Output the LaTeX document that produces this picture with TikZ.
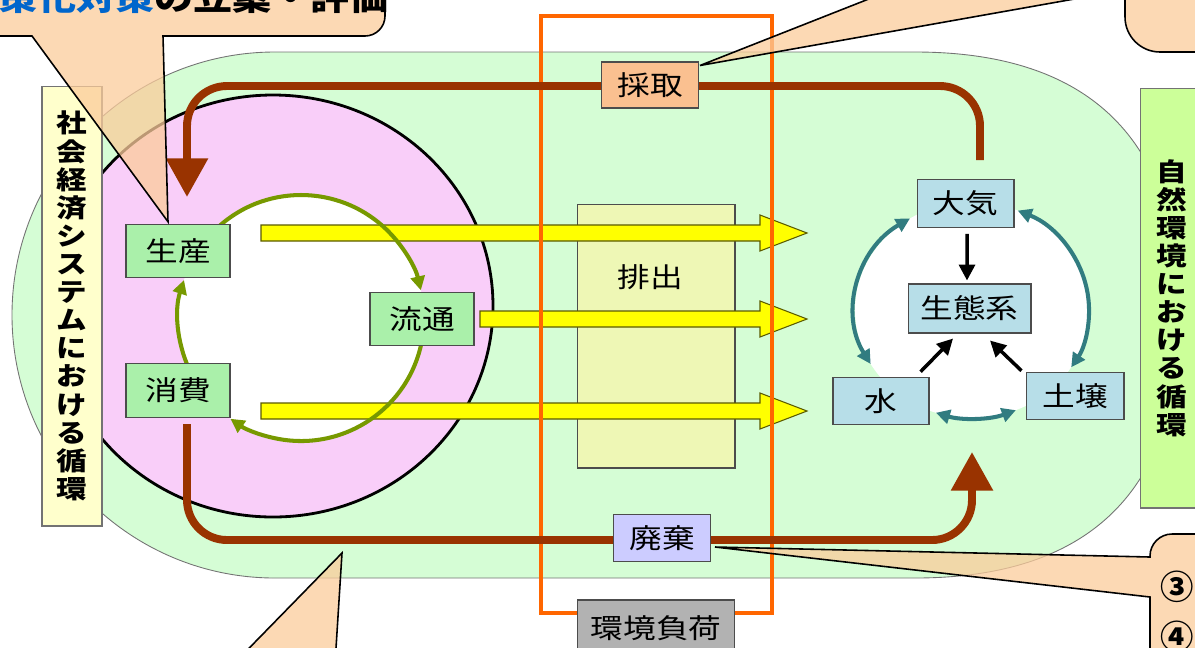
\documentclass[tikz,border=0pt]{standalone}
\usepackage{fontspec}
\setmainfont{Noto Sans CJK JP}[FakeStretch=1.2]
\newfontfamily\circfont{Noto Sans CJK JP}
\usetikzlibrary{positioning,arrows.meta,calc}

\definecolor{ringgreen}{RGB}{213,253,213}
\definecolor{socpink}{RGB}{249,206,249}
\definecolor{socfill}{RGB}{170,240,170}
\definecolor{natfill}{RGB}{183,222,232}
\definecolor{takefill}{RGB}{250,192,144}
\definecolor{wastefill}{RGB}{204,204,255}
\definecolor{loadfill}{RGB}{178,178,178}
\definecolor{emitfill}{RGB}{238,247,181}
\definecolor{leftlabel}{RGB}{255,255,204}
\definecolor{rightlabel}{RGB}{204,255,153}
\definecolor{frameorange}{RGB}{255,102,0}
\definecolor{flowbrown}{RGB}{153,51,0}
\definecolor{cyclegreen}{RGB}{119,153,0}
\definecolor{cycleteal}{RGB}{49,124,128}
\definecolor{emityellow}{RGB}{255,255,0}
\definecolor{emitedge}{RGB}{90,90,0}
\definecolor{calloutfill}{RGB}{251,204,155}
\definecolor{calloutblue}{RGB}{0,102,204}

\tikzset{
  box/.style={draw=black!70, line width=0.6pt, inner sep=0pt, font=\fontsize{15.5}{18}\selectfont},
  soc/.style={box, fill=socfill, minimum width=2.08cm, minimum height=1.07cm},
  nat/.style={box, fill=natfill, minimum width=1.94cm, minimum height=0.95cm},
  vlabel/.style={draw=black!55, line width=0.6pt, align=center, inner sep=0pt,
    font=\bfseries\fontsize{14.5}{16}\selectfont},
  brownflow/.style={draw=flowbrown, line width=4.5pt, rounded corners=0.8cm,
    -{Triangle[length=22pt,width=23pt]}},
  gcycle/.style={draw=cyclegreen, line width=2.3pt, -{Triangle[length=8pt,width=8pt]}},
  tcycle/.style={draw=cycleteal, line width=2.3pt,
    {Triangle[length=8pt,width=8pt]}-{Triangle[length=8pt,width=8pt]}},
  blk/.style={draw=black, line width=2pt, -{Triangle[length=9pt,width=9pt]}},
  emission/.style={fill=emityellow, draw=emitedge, line width=0.6pt},
  callout/.style={fill=calloutfill, fill opacity=0.75, draw=black, line width=0.9pt}
}

% yellow block arrow from #1 to tip #2
\newcommand\emitarrow[2]{%
  \draw[emission] ($(#1)+(0,-8)$) -- ($(#2)+(-47,-8)$) -- ($(#2)+(-47,-18)$) -- (#2)
    -- ($(#2)+(-47,18)$) -- ($(#2)+(-47,8)$) -- ($(#1)+(0,8)$) -- cycle;}

\begin{document}
\begin{tikzpicture}[x=0.02cm, y=-0.02cm]
  \useasboundingbox (0,0) rectangle (1195,647);
  \clip (0,0) rectangle (1195,647);

  % background ring
  \draw[fill=ringgreen, draw=black!55, line width=0.5pt]
    (275,52) -- (915,52) .. controls (1100,52) and (1180,150) .. (1180,315)
    .. controls (1180,480) and (1100,578) .. (915,578) -- (275,578)
    arc[start angle=90, end angle=270, radius=263] -- cycle;

  % socio-economic circle
  \draw[fill=socpink, line width=1.6pt] (273,306) ellipse[x radius=220, y radius=211];
  \fill[white] (301,318) circle[radius=123];
  \fill[white] (972,310) ellipse[x radius=117, y radius=108];

  % emission
  \node[draw=black!70, line width=0.6pt, fill=emitfill, minimum width=3.16cm,
    minimum height=5.28cm] (haishutsu) at (656,336) {};
  \node[font=\fontsize{15.5}{18}\selectfont] (haishutsutext) at ($(haishutsu.north)+(-6,74)$) {排出};

  \coordinate (emit1) at (261,233);
  \coordinate (emit1tip) at (807,233);
  \coordinate (emit2) at (480,319);
  \coordinate (emit2tip) at (807,319);
  \coordinate (emit3) at (261,411);
  \coordinate (emit3tip) at (807,411);
  \emitarrow{emit1}{emit1tip}
  \emitarrow{emit2}{emit2tip}
  \emitarrow{emit3}{emit3tip}

  % environmental load frame
  \draw[frameorange, line width=2.3pt] (541,16) rectangle (772,613);

  % material flow
  \coordinate (takestart) at (980,160);
  \coordinate (takeend) at (187,197);
  \coordinate (wastestart) at (187,424);
  \coordinate (wasteend) at (972,452);
  \draw[brownflow] (takestart) -- (980,86) -- (187,86) -- (takeend);
  \draw[brownflow] (wastestart) -- (187,540) -- (972,540) -- (wasteend);

  % cycles
  \draw[gcycle] (301,318) ++(-135:123) arc[start angle=-135, end angle=-13, radius=123];
  \draw[gcycle] (301,318) ++(8:123) arc[start angle=8, end angle=125, radius=123];
  \draw[gcycle] (301,318) ++(-205:123) arc[start angle=-205, end angle=-162, radius=123];

  \draw[tcycle] (972,310) ++(-122:117 and 108)
    arc[start angle=-122, end angle=-210, x radius=117, y radius=108];
  \draw[tcycle] (972,310) ++(-67:117 and 108)
    arc[start angle=-67, end angle=32, x radius=117, y radius=108];
  \draw[tcycle] (972,310) ++(108:117 and 108)
    arc[start angle=108, end angle=68, x radius=117, y radius=108];

  % boxes
  \node[soc] (seisan) at (178,251) {生産};
  \node[soc, below=1.7cm of seisan] (shohi) {消費};
  \node[soc] (ryutsu) at (422,319) {流通};
  \node[box, fill=takefill, minimum width=1.94cm, minimum height=0.92cm] (saishu) at (650,85) {採取};
  \node[box, fill=wastefill, minimum width=1.94cm, minimum height=0.94cm] (haiki) at (662,538) {廃棄};
  \node[box, fill=loadfill, minimum width=3.14cm, minimum height=1.12cm] (fuka) at (656,628) {環境負荷};

  \node[nat] (taiki) at (965.5,203.5) {大気};
  \node[nat, minimum width=2.46cm, minimum height=0.98cm] (seitaikei) at (969.5,308.5) {生態系};
  \node[nat, minimum width=1.92cm] (mizu) at (881,401) {水};
  \node[nat, minimum width=1.96cm] (dojo) at (1075,396) {土壌};

  \draw[blk] ([shift={(1.5,6)}]taiki.south) -- ([shift={(-2.5,-3)}]seitaikei.north);
  \draw[blk] ([shift={(-9,-5)}]mizu.north east) -- ([shift={(-16.5,5)}]seitaikei.south);
  \draw[blk] ([shift={(-4,-1)}]dojo.north west) -- ([shift={(20.5,7)}]seitaikei.south);

  % side labels
  \node[vlabel, fill=leftlabel, minimum width=1.2cm, minimum height=8.8cm] (shakai) at (72,306)
    {社\\会\\経\\済\\シ\\ス\\テ\\ム\\に\\お\\け\\る\\循\\環};
  \node[vlabel, fill=rightlabel, minimum width=1.28cm, minimum height=8.4cm] (shizen) at (1172,298)
    {自\\然\\環\\境\\に\\お\\け\\る\\循\\環};

  % callouts
  \draw[callout] ($(seisan.north)+(-10,-2)$) -- (32,36) -- (-20,36) -- (-20,-40) -- (385,-40)
    -- (385,16) arc[start angle=0, end angle=90, radius=20] -- (163,36) -- cycle;
  \draw[callout] ($(saishu.north east)+(1,4)$) -- (955,-35) -- (1220,-35) -- (1220,52) -- (1160,52)
    arc[start angle=90, end angle=180, radius=35] -- (1125,-10) -- cycle;
  \coordinate (looptip) at (342,553);
  \draw[callout] (looptip) -- (334,680) -- (218,680) -- cycle;
  \draw[callout] ($(haiki.east)+(4,9)$) -- (1150,557) -- (1150,556)
    arc[start angle=180, end angle=270, radius=22] -- (1230,534) -- (1230,690)
    -- (1150,690) -- (1150,597) -- cycle;

  \node[anchor=base east, font=\bfseries\fontsize{18.5}{18}\selectfont] (plantext) at (395,10)
    {\textcolor{calloutblue}{策化対策}の立案・評価};
  \node[font=\circfont\bfseries\fontsize{19}{19}\selectfont] (num3) at (1177,587) {③};
  \node[font=\circfont\bfseries\fontsize{19}{19}\selectfont] (num4) at (1177,637) {④};
\end{tikzpicture}
\end{document}
